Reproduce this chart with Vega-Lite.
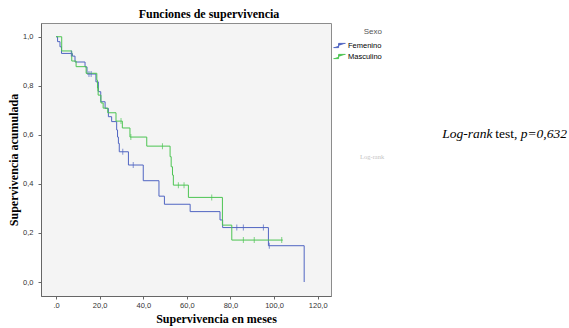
{
  "$schema": "https://vega.github.io/schema/vega-lite/v6.json",
  "width": 290,
  "height": 273,
  "autosize": "none",
  "padding": {"left": 41, "top": 23, "right": 238, "bottom": 32},
  "background": "white",
  "title": {"text": "Funciones de supervivencia", "font": "Liberation Serif", "fontSize": 12, "fontWeight": "bold", "color": "#000", "anchor": "middle", "dx": 23, "offset": 2},
  "datasets": {
    "km": [
      {"sexo": "Femenino", "kind": "line", "t": 0, "s": 1.0},
      {"sexo": "Femenino", "kind": "line", "t": 0.7, "s": 0.98},
      {"sexo": "Femenino", "kind": "line", "t": 1.8, "s": 0.959},
      {"sexo": "Femenino", "kind": "line", "t": 2.5, "s": 0.932},
      {"sexo": "Femenino", "kind": "line", "t": 7.5, "s": 0.921},
      {"sexo": "Femenino", "kind": "line", "t": 8.7, "s": 0.897},
      {"sexo": "Femenino", "kind": "line", "t": 13.3, "s": 0.877},
      {"sexo": "Femenino", "kind": "line", "t": 14.2, "s": 0.848},
      {"sexo": "Femenino", "kind": "line", "t": 18.3, "s": 0.816},
      {"sexo": "Femenino", "kind": "line", "t": 19.4, "s": 0.776},
      {"sexo": "Femenino", "kind": "line", "t": 20.5, "s": 0.735},
      {"sexo": "Femenino", "kind": "line", "t": 22.5, "s": 0.708},
      {"sexo": "Femenino", "kind": "line", "t": 24.0, "s": 0.674},
      {"sexo": "Femenino", "kind": "line", "t": 25.5, "s": 0.654},
      {"sexo": "Femenino", "kind": "line", "t": 27.8, "s": 0.62},
      {"sexo": "Femenino", "kind": "line", "t": 28.2, "s": 0.591},
      {"sexo": "Femenino", "kind": "line", "t": 28.6, "s": 0.565},
      {"sexo": "Femenino", "kind": "line", "t": 29.0, "s": 0.531},
      {"sexo": "Femenino", "kind": "line", "t": 33.2, "s": 0.477},
      {"sexo": "Femenino", "kind": "line", "t": 40.0, "s": 0.413},
      {"sexo": "Femenino", "kind": "line", "t": 47.2, "s": 0.35},
      {"sexo": "Femenino", "kind": "line", "t": 49.7, "s": 0.317},
      {"sexo": "Femenino", "kind": "line", "t": 61.5, "s": 0.287},
      {"sexo": "Femenino", "kind": "line", "t": 75.2, "s": 0.253},
      {"sexo": "Femenino", "kind": "line", "t": 76.4, "s": 0.222},
      {"sexo": "Femenino", "kind": "line", "t": 97.4, "s": 0.148},
      {"sexo": "Femenino", "kind": "line", "t": 113.8, "s": 0.0},
      {"sexo": "Femenino", "kind": "censor", "t": 7.0, "s": 0.932},
      {"sexo": "Femenino", "kind": "censor", "t": 15.1, "s": 0.848},
      {"sexo": "Femenino", "kind": "censor", "t": 16.1, "s": 0.848},
      {"sexo": "Femenino", "kind": "censor", "t": 30.6, "s": 0.531},
      {"sexo": "Femenino", "kind": "censor", "t": 35.4, "s": 0.477},
      {"sexo": "Femenino", "kind": "censor", "t": 82.9, "s": 0.222},
      {"sexo": "Femenino", "kind": "censor", "t": 85.9, "s": 0.222},
      {"sexo": "Femenino", "kind": "censor", "t": 95.1, "s": 0.222},
      {"sexo": "Femenino", "kind": "censor", "t": 97.8, "s": 0.148},
      {"sexo": "Masculino", "kind": "line", "t": 0, "s": 1.0},
      {"sexo": "Masculino", "kind": "line", "t": 2.6, "s": 0.942},
      {"sexo": "Masculino", "kind": "line", "t": 7.2, "s": 0.901},
      {"sexo": "Masculino", "kind": "line", "t": 9.2, "s": 0.878},
      {"sexo": "Masculino", "kind": "line", "t": 13.8, "s": 0.851},
      {"sexo": "Masculino", "kind": "line", "t": 18.7, "s": 0.823},
      {"sexo": "Masculino", "kind": "line", "t": 19.0, "s": 0.791},
      {"sexo": "Masculino", "kind": "line", "t": 19.3, "s": 0.762},
      {"sexo": "Masculino", "kind": "line", "t": 20.6, "s": 0.73},
      {"sexo": "Masculino", "kind": "line", "t": 21.6, "s": 0.709},
      {"sexo": "Masculino", "kind": "line", "t": 23.7, "s": 0.69},
      {"sexo": "Masculino", "kind": "line", "t": 27.5, "s": 0.656},
      {"sexo": "Masculino", "kind": "line", "t": 30.4, "s": 0.628},
      {"sexo": "Masculino", "kind": "line", "t": 33.9, "s": 0.591},
      {"sexo": "Masculino", "kind": "line", "t": 41.6, "s": 0.554},
      {"sexo": "Masculino", "kind": "line", "t": 52.3, "s": 0.511},
      {"sexo": "Masculino", "kind": "line", "t": 52.8, "s": 0.47},
      {"sexo": "Masculino", "kind": "line", "t": 53.4, "s": 0.436},
      {"sexo": "Masculino", "kind": "line", "t": 53.8, "s": 0.395},
      {"sexo": "Masculino", "kind": "line", "t": 60.7, "s": 0.345},
      {"sexo": "Masculino", "kind": "line", "t": 76.3, "s": 0.232},
      {"sexo": "Masculino", "kind": "line", "t": 80.6, "s": 0.171},
      {"sexo": "Masculino", "kind": "line", "t": 104.0, "s": 0.171},
      {"sexo": "Masculino", "kind": "censor", "t": 19.2, "s": 0.791},
      {"sexo": "Masculino", "kind": "censor", "t": 29.8, "s": 0.656},
      {"sexo": "Masculino", "kind": "censor", "t": 34.3, "s": 0.591},
      {"sexo": "Masculino", "kind": "censor", "t": 48.8, "s": 0.554},
      {"sexo": "Masculino", "kind": "censor", "t": 56.1, "s": 0.395},
      {"sexo": "Masculino", "kind": "censor", "t": 58.7, "s": 0.395},
      {"sexo": "Masculino", "kind": "censor", "t": 71.4, "s": 0.345},
      {"sexo": "Masculino", "kind": "censor", "t": 85.9, "s": 0.171},
      {"sexo": "Masculino", "kind": "censor", "t": 90.9, "s": 0.171},
      {"sexo": "Masculino", "kind": "censor", "t": 103.5, "s": 0.171}
    ],
    "notes": [
      {"label": "Log-rank", "style": "italic", "size": "big", "t": 177.1, "s": 0.603},
      {"label": "test,", "style": "normal", "size": "big", "t": 201.4, "s": 0.603},
      {"label": "p=0,632", "style": "italic", "size": "big", "t": 213.1, "s": 0.603},
      {"label": "Log-rank", "style": "normal", "size": "faint", "t": 139.4, "s": 0.51}
    ]
  },
  "layer": [
    {
      "data": {"name": "km"},
      "transform": [{"filter": "datum.kind == 'line'"}],
      "mark": {"type": "line", "interpolate": "step-after", "strokeWidth": 1, "clip": false},
      "encoding": {
        "x": {"field": "t", "type": "quantitative",
          "scale": {"domain": [-6.9, 126.1], "nice": false, "zero": false},
          "axis": {"title": "Supervivencia en meses", "values": [0, 20, 40, 60, 80, 100, 120],
            "labelExpr": "datum.value == 0 ? '.0' : replace(format(datum.value, '.1f'), '.', ',')",
            "titleX": 175, "titleY": 26, "titleBaseline": "alphabetic", "titleAnchor": null}},
        "y": {"field": "s", "type": "quantitative",
          "scale": {"domain": [-0.057, 1.056], "nice": false, "zero": false},
          "axis": {"title": "Supervivencia acumulada", "values": [0, 0.2, 0.4, 0.6, 0.8, 1.0],
            "labelExpr": "replace(format(datum.value, '.1f'), '.', ',')", "labelPadding": 5,
            "titleX": -27.5, "titleY": 136.5, "titleBaseline": "middle", "titleAngle": -90}},
        "color": {"field": "sexo", "type": "nominal",
          "scale": {"domain": ["Femenino", "Masculino"], "range": ["#5065c2", "#4cc452"]},
          "legend": {"title": "Sexo", "orient": "none", "legendX": 292, "legendY": 5,
            "titleFont": "Liberation Sans", "titleFontSize": 8, "titleFontWeight": "normal", "titleColor": "#555",
            "titleAnchor": "end", "titlePadding": 3,
            "labelFont": "Liberation Sans", "labelFontSize": 7.5, "labelColor": "#000", "labelOffset": 2,
            "symbolType": "M-1,0.35L-0.15,0.35L-0.15,-0.35L1,-0.35", "symbolSize": 144, "symbolStrokeWidth": 1,
            "symbolFillColor": "transparent", "rowPadding": 0}}
      }
    },
    {
      "data": {"name": "km"},
      "transform": [{"filter": "datum.kind == 'censor'"}],
      "mark": {"type": "tick", "orient": "vertical", "size": 6, "thickness": 1},
      "encoding": {
        "x": {"field": "t", "type": "quantitative"},
        "y": {"field": "s", "type": "quantitative"},
        "color": {"field": "sexo", "type": "nominal", "legend": null}
      }
    },
    {
      "data": {"name": "notes"},
      "transform": [{"filter": "datum.size == 'big' && datum.style == 'italic'"}],
      "mark": {"type": "text", "font": "Liberation Serif", "fontSize": 13.5, "fontStyle": "italic", "align": "left", "baseline": "middle", "color": "#000", "clip": false},
      "encoding": {
        "x": {"field": "t", "type": "quantitative"},
        "y": {"field": "s", "type": "quantitative"},
        "text": {"field": "label"}
      }
    },
    {
      "data": {"name": "notes"},
      "transform": [{"filter": "datum.size == 'big' && datum.style == 'normal'"}],
      "mark": {"type": "text", "font": "Liberation Serif", "fontSize": 13.5, "align": "left", "baseline": "middle", "color": "#000", "clip": false},
      "encoding": {
        "x": {"field": "t", "type": "quantitative"},
        "y": {"field": "s", "type": "quantitative"},
        "text": {"field": "label"}
      }
    },
    {
      "data": {"name": "notes"},
      "transform": [{"filter": "datum.size == 'faint'"}],
      "mark": {"type": "text", "font": "Liberation Serif", "fontSize": 6.5, "align": "left", "baseline": "middle", "color": "#c4c4c4", "clip": false},
      "encoding": {
        "x": {"field": "t", "type": "quantitative"},
        "y": {"field": "s", "type": "quantitative"},
        "text": {"field": "label"}
      }
    }
  ],
  "config": {
    "view": {"fill": "#f4f4f4", "stroke": "#8c8c8c", "strokeWidth": 1},
    "axis": {"grid": false, "domainColor": "#666", "tickColor": "#666", "tickSize": 3,
      "labelFont": "Liberation Sans", "labelFontSize": 7.5, "labelColor": "#333", "labelPadding": 2,
      "titleFont": "Liberation Serif", "titleFontSize": 12, "titleFontWeight": "bold", "titleColor": "#000"}
  }
}
